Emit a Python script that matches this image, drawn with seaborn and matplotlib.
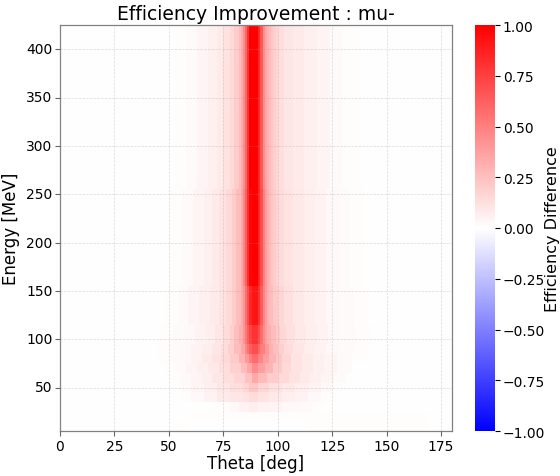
import numpy as np
import pandas as pd
import matplotlib
matplotlib.use("Agg")
import matplotlib.pyplot as plt
import seaborn as sns

# ---------------- data ----------------
theta_lower = list(range(0, 180))            # 1-degree theta bins [deg]
energy_lower = list(range(5, 425, 10))       # 10-MeV energy bins [MeV]

# Step profiles along theta: value (percent) starting at given theta bin
p_top_start = [0, 52, 58, 63, 68, 72, 75, 78, 80, 82, 83, 84, 85, 86, 87, 91, 92, 93, 94, 95, 96, 97, 98, 99, 100, 103, 107, 112, 118, 124, 130, 138]
p_top_pct   = [0, 1,  2,  4,  6,  8,  11, 15, 20, 26, 33, 45, 60, 80, 100, 85, 65, 45, 35, 30, 26, 22, 19, 16, 13,  10,  8,   6,   4,   2,   1,   0]

p_up_start = [0, 50, 56, 61, 66, 70, 73, 76, 79, 81, 83, 84, 85, 86, 87, 88, 91, 92, 93, 94, 95, 96, 97, 98, 99, 100, 103, 107, 112, 117, 122, 128, 133, 140]
p_up_pct   = [0, 1,  2,  4,  6,  8,  11, 15, 20, 26, 35, 48, 62, 82, 97, 100, 85, 68, 50, 38, 32, 27, 23, 20, 17, 14,  11,  9,   7,   5,   3,   2,   1,   0]

p_mid_start = [0, 48, 54, 59, 64, 69, 73, 76, 79, 81, 83, 84, 85, 86, 87, 88, 91, 92, 93, 94, 95, 96, 98, 100, 103, 107, 112, 117, 122, 128, 135, 142]
p_mid_pct   = [0, 1,  2,  4,  6,  8,  11, 15, 20, 26, 33, 42, 55, 70, 85, 92, 80, 63, 48, 38, 31, 26, 21, 16,  12,  9,   7,   5,   3,   2,   1,   0]

p_100_start = [0, 46, 52, 57, 62, 67, 71, 75, 78, 80, 82, 84, 85, 86, 87, 88, 91, 92, 93, 94, 95, 97, 99, 101, 104, 108, 113, 118, 123, 128, 136, 144]
p_100_pct   = [0, 1,  2,  3,  5,  7,  10, 14, 19, 25, 32, 42, 52, 63, 74, 80, 70, 57, 46, 38, 32, 26, 21, 16,  12,  9,   7,   5,   3,   2,   1,   0]

p_90_start = [0, 45, 50, 55, 60, 65, 70, 74, 77, 80, 83, 85, 86, 87, 88, 91, 92, 94, 96, 98, 100, 103, 107, 112, 117, 122, 128, 135, 142]
p_90_pct   = [0, 1,  2,  3,  5,  7,  10, 14, 19, 26, 35, 46, 55, 64, 70, 60, 50, 40, 31, 25, 19,  14,  10,  7,   5,   3,   2,   1,   0]

p_80_start = [0, 45, 50, 55, 60, 65, 70, 74, 78, 82, 85, 87, 88, 91, 93, 96, 99, 102, 106, 111, 116, 121, 127, 134, 142]
p_80_pct   = [0, 1,  2,  3,  5,  8,  11, 15, 21, 30, 40, 50, 58, 48, 38, 29, 22, 16,  11,  8,   6,   4,   2,   1,   0]

p_70_start = [0, 48, 53, 58, 63, 68, 73, 78, 83, 86, 88, 91, 94, 98, 102, 106, 111, 116, 121, 127, 134]
p_70_pct   = [0, 1,  2,  4,  6,  9,  13, 18, 26, 35, 46, 38, 29, 21, 15,  11,  8,   6,   4,   2,   0]

p_60_start = [0, 50, 55, 60, 65, 70, 75, 80, 85, 88, 91, 95, 100, 105, 110, 115, 120, 126, 132]
p_60_pct   = [0, 1,  2,  4,  7,  10, 13, 17, 24, 34, 27, 20, 15,  11,  8,   6,   4,   2,   0]

p_50_start = [0, 52, 56, 60, 66, 72, 78, 84, 87, 91, 96, 102, 108, 114, 120, 125, 130]
p_50_pct   = [0, 1,  2,  4,  7,  10, 13, 16, 22, 16, 12, 9,   7,   5,   3,   1,   0]

p_40_start = [0, 55, 60, 66, 72, 78, 84, 87, 91, 96, 102, 108, 114, 120, 126]
p_40_pct   = [0, 1,  3,  5,  8,  10, 11, 14, 11, 9,  7,   5,   3,   1,   0]

p_30_start = [0, 70, 78, 82, 87, 91, 96, 102, 110, 116, 120]
p_30_pct   = [0, 1,  3,  5,  7,  5,  4,  3,   2,   1,   0]

p_20_start = [0, 60, 115, 170]
p_20_pct   = [0, 1,  1,   0]

p_10_start = [0, 50, 58, 113, 170]
p_10_pct   = [0, 1,  0,  1,   0]

# profile used by each energy bin (low -> high energy)
row_profile = (["p10", "p20", "p30", "p40", "p50", "p60", "p70", "p80", "p90",
                "p100", "p100"] + ["pmid"] * 4 + ["pup"] * 10 + ["ptop"] * 17)

x_ticks = [0, 25, 50, 75, 100, 125, 150, 175]
y_ticks = [50, 100, 150, 200, 250, 300, 350, 400]
cbar_ticks = [-1.0, -0.75, -0.5, -0.25, 0.0, 0.25, 0.5, 0.75, 1.0]

profiles = {
    "ptop": (p_top_start, p_top_pct), "pup": (p_up_start, p_up_pct),
    "pmid": (p_mid_start, p_mid_pct), "p100": (p_100_start, p_100_pct),
    "p90": (p_90_start, p_90_pct), "p80": (p_80_start, p_80_pct),
    "p70": (p_70_start, p_70_pct), "p60": (p_60_start, p_60_pct),
    "p50": (p_50_start, p_50_pct), "p40": (p_40_start, p_40_pct),
    "p30": (p_30_start, p_30_pct), "p20": (p_20_start, p_20_pct),
    "p10": (p_10_start, p_10_pct),
}

rows = []
th = np.array(theta_lower)
for name in row_profile:
    starts, pct = profiles[name]
    idx = np.searchsorted(np.array(starts), th, side="right") - 1
    rows.append(np.array(pct)[idx] / 100.0)
df = pd.DataFrame(np.array(rows), index=energy_lower, columns=theta_lower)

# ---------------- figure ----------------
sns.set_style("white")
plt.rcParams["font.family"] = ["DejaVu Sans"]
plt.rcParams["text.color"] = "black"
plt.rcParams["axes.labelcolor"] = "black"
plt.rcParams["xtick.color"] = "black"
plt.rcParams["ytick.color"] = "black"

W, H = 560, 477
fig = plt.figure(figsize=(W / 100, H / 100), dpi=100)
ax = fig.add_axes([60 / W, 1 - 432 / H, 392 / W, 406 / H])
cax = fig.add_axes([475 / W, 1 - 432 / H, 20 / W, 406 / H])

sns.heatmap(df, ax=ax, cmap="bwr", vmin=-1, vmax=1, cbar_ax=cax,
            cbar_kws={"ticks": cbar_ticks}, rasterized=True)
ax.invert_yaxis()

e0, de = energy_lower[0], energy_lower[1] - energy_lower[0]
ax.set_xticks([t - theta_lower[0] for t in x_ticks])
ax.set_xticklabels([str(t) for t in x_ticks], rotation=0, fontsize=10)
ax.set_yticks([(e - e0) / de for e in y_ticks])
ax.set_yticklabels([str(e) for e in y_ticks], rotation=0, fontsize=10)
ax.tick_params(axis="both", length=3.5, width=0.8, pad=2, color="0.4",
               labelcolor="black", left=True, bottom=True)

for s in ax.spines.values():
    s.set_visible(True)
    s.set_color("0.5")
    s.set_linewidth(0.9)

ax.grid(True, color="0.6", linestyle="--", linewidth=0.5, alpha=0.35)
ax.set_axisbelow(False)

ax.set_xlabel("Theta [deg]", fontsize=12, labelpad=1, color="black")
ax.set_ylabel("Energy [MeV]", fontsize=12, labelpad=4, color="black")
ax.set_title("Efficiency Improvement : mu-", fontsize=13.5, pad=4, color="black")

cax.tick_params(labelsize=10, length=3.5, width=0.8, pad=2, labelcolor="black")
cax.yaxis.set_major_formatter(matplotlib.ticker.ScalarFormatter())
cax.set_ylabel("Efficiency Difference", fontsize=11.5, labelpad=0, color="black")

fig.savefig("out.png", dpi=100)
